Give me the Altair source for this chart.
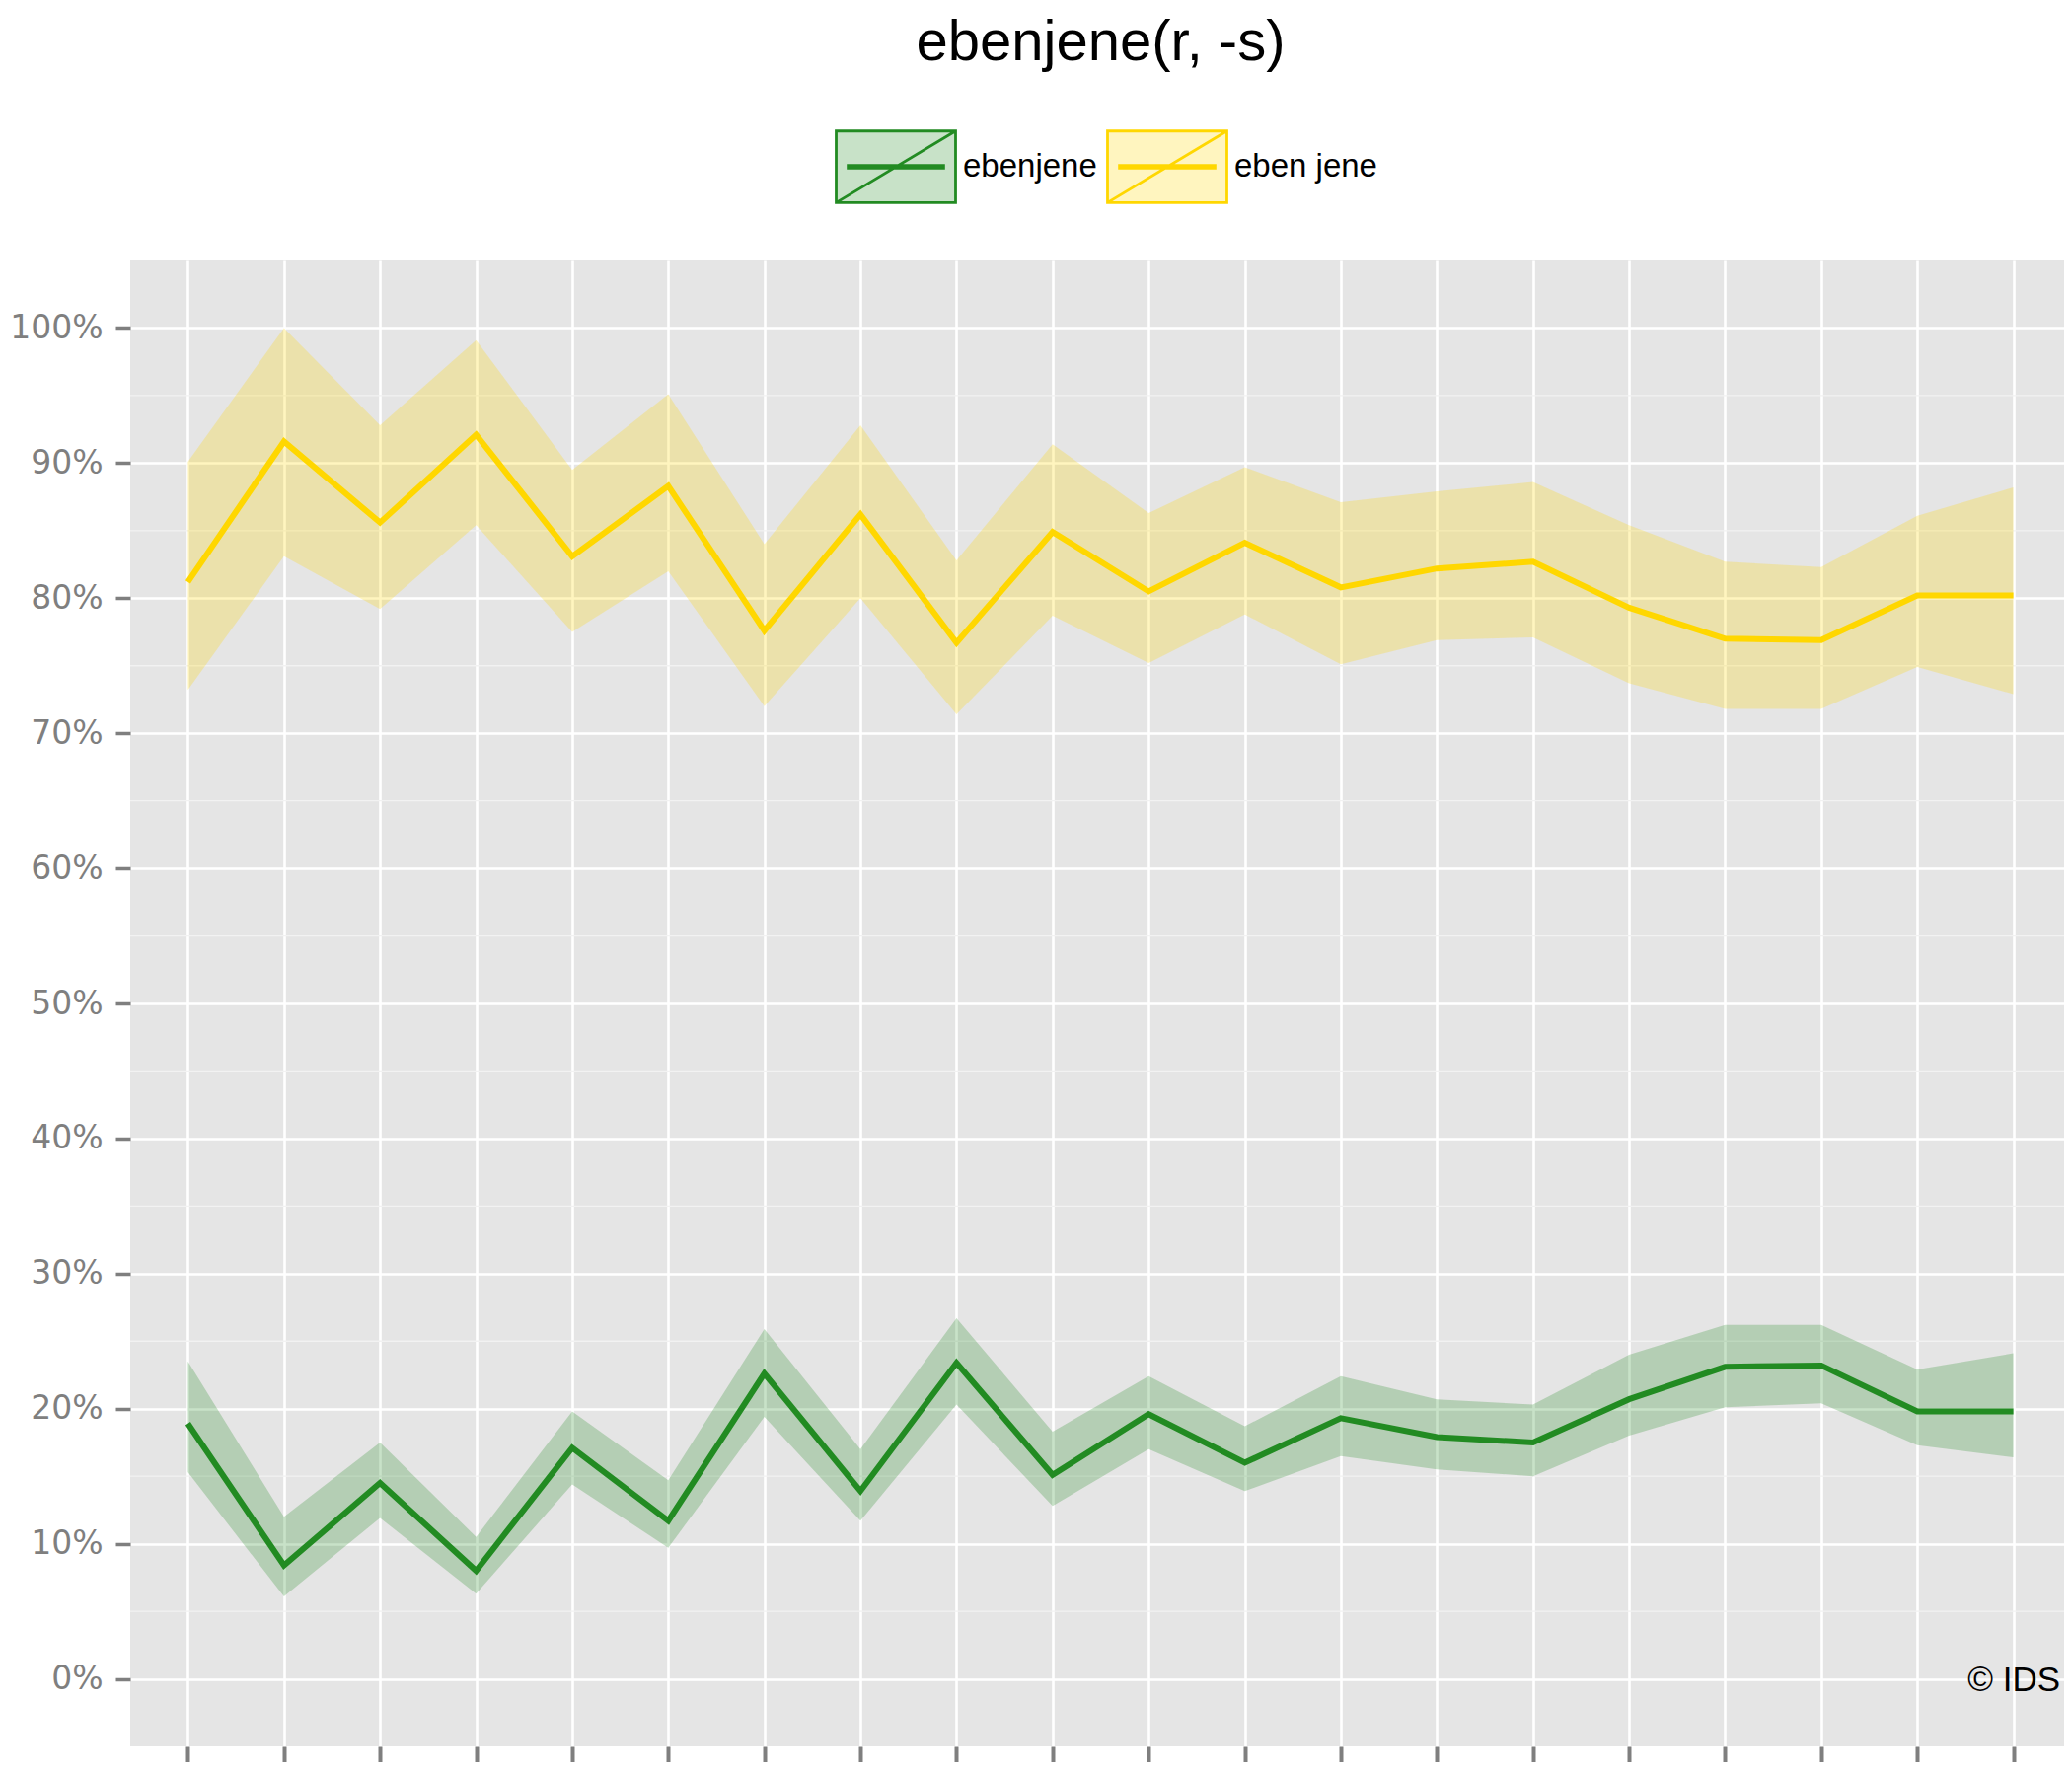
import altair as alt
import pandas as pd

# ---------------- data ----------------
positions = list(range(1, 21))
series_names = ["ebenjene", "eben jene"]
line_colors = ["#228B22", "#FFD700"]
band_colors = ["rgba(34,139,34,0.25)", "rgba(255,215,0,0.25)"]

green_mid = [0.189, 0.084, 0.145, 0.080, 0.171, 0.117, 0.226, 0.139, 0.234, 0.151,
             0.196, 0.160, 0.193, 0.179, 0.175, 0.207, 0.231, 0.232, 0.198, 0.198]
green_lo = [0.153, 0.061, 0.119, 0.063, 0.144, 0.097, 0.194, 0.117, 0.203, 0.128,
            0.170, 0.139, 0.165, 0.155, 0.150, 0.180, 0.201, 0.204, 0.173, 0.164]
green_hi = [0.235, 0.120, 0.175, 0.105, 0.198, 0.147, 0.259, 0.170, 0.267, 0.183,
            0.224, 0.187, 0.224, 0.207, 0.203, 0.240, 0.262, 0.262, 0.229, 0.241]

yellow_mid = [0.812, 0.916, 0.856, 0.921, 0.831, 0.883, 0.776, 0.862, 0.767, 0.849,
              0.805, 0.841, 0.808, 0.822, 0.827, 0.793, 0.770, 0.769, 0.802, 0.802]
yellow_lo = [0.732, 0.831, 0.792, 0.854, 0.775, 0.820, 0.720, 0.800, 0.714, 0.787,
             0.752, 0.788, 0.751, 0.769, 0.771, 0.737, 0.718, 0.718, 0.749, 0.729]
yellow_hi = [0.901, 1.000, 0.928, 0.991, 0.895, 0.951, 0.840, 0.928, 0.828, 0.914,
             0.863, 0.897, 0.871, 0.879, 0.886, 0.854, 0.827, 0.823, 0.861, 0.882]

y_major = [0.0, 0.1, 0.2, 0.3, 0.4, 0.5, 0.6, 0.7, 0.8, 0.9, 1.0]
y_minor = [0.05, 0.15, 0.25, 0.35, 0.45, 0.55, 0.65, 0.75, 0.85, 0.95]

title_text = "ebenjene(r, -s)"
credit_text = "© IDS"

# ---------------- tables ----------------
rows = []
for name, mids, los, his in [
    (series_names[0], green_mid, green_lo, green_hi),
    (series_names[1], yellow_mid, yellow_lo, yellow_hi),
]:
    for p, m, lo, hi in zip(positions, mids, los, his):
        rows.append({"pos": p, "series": name, "mid": m, "lo": lo, "hi": hi})
df = pd.DataFrame(rows)
minor_df = pd.DataFrame({"v": y_minor})

# ---------------- layout ----------------
PLOT_W = 1967
PLOT_H = 1506

LEGEND_PATH = ("M-1,-0.6L1,-0.6L1,0.6L-1,0.6Z "
               "M-1,0.6L1,-0.6 "
               "M-0.8,-0.022L0.8,-0.022L0.8,0.022L-0.8,0.022Z")

def make_legend():
    return alt.Legend(
        orient="none", legendX=714, legendY=-157, direction="horizontal",
        title=None, symbolType=LEGEND_PATH, symbolSize=14641,
        symbolStrokeWidth=2.8, labelFont="Liberation Sans", labelFontSize=33,
        labelColor="black", labelOffset=6, columnPadding=4, padding=0,
    )

y_axis = alt.Axis(values=y_major, format="%", title=None, domain=False,
                  grid=True, gridColor="white", gridWidth=2.6,
                  ticks=True, tickSize=15, tickWidth=3.5, tickColor="#7f7f7f",
                  labelFont="DejaVu Sans", labelFontSize=33,
                  labelColor="#7f7f7f", labelPadding=13)

x_enc = alt.X(
    "pos:Q",
    scale=alt.Scale(domain=[0.4, 20.6], nice=False, zero=False),
    axis=alt.Axis(values=positions, labels=False, ticks=True, tickSize=16,
                  tickWidth=4, tickColor="#7f7f7f", grid=True, gridColor="white",
                  gridWidth=2.6, domain=False, title=None),
)
y_scale = alt.Scale(domain=[-0.05, 1.05], nice=False, zero=False)

base = alt.Chart(df)

minor = alt.Chart(minor_df).mark_rule(color="#f2f2f2", strokeWidth=1.3).encode(
    y=alt.Y("v:Q", scale=y_scale, axis=y_axis)
)

band = base.mark_area().encode(
    x=x_enc,
    y=alt.Y("lo:Q", scale=y_scale, axis=y_axis),
    y2="hi:Q",
    fill=alt.Fill("series:N", scale=alt.Scale(domain=series_names, range=band_colors),
                  legend=make_legend()),
    detail="series:N",
)

line = base.mark_line(strokeWidth=6).encode(
    x=alt.X("pos:Q"),
    y=alt.Y("mid:Q"),
    stroke=alt.Stroke("series:N", scale=alt.Scale(domain=series_names, range=line_colors),
                      legend=make_legend()),
)

title_mark = alt.Chart(pd.DataFrame({"t": [title_text]})).mark_text(
    font="Liberation Sans", fontSize=58, color="black", align="center",
    baseline="alphabetic",
).encode(text="t:N", x=alt.value(PLOT_W / 2), y=alt.value(-203))

credit_mark = alt.Chart(pd.DataFrame({"t": [credit_text]})).mark_text(
    font="Liberation Sans", fontSize=35, color="black", align="right",
    baseline="alphabetic",
).encode(text="t:N", x=alt.value(1956), y=alt.value(1450))

chart = alt.layer(minor, band, line, title_mark, credit_mark).properties(
    width=PLOT_W, height=PLOT_H,
    background="white",
    autosize=alt.AutoSizeParams(type="none"),
    padding={"left": 124, "top": 256, "right": -7, "bottom": 16},
).configure_view(fill="#E5E5E5", stroke=None, strokeWidth=0)

chart.save("out.html", embed_options={"renderer": "svg", "actions": False})
